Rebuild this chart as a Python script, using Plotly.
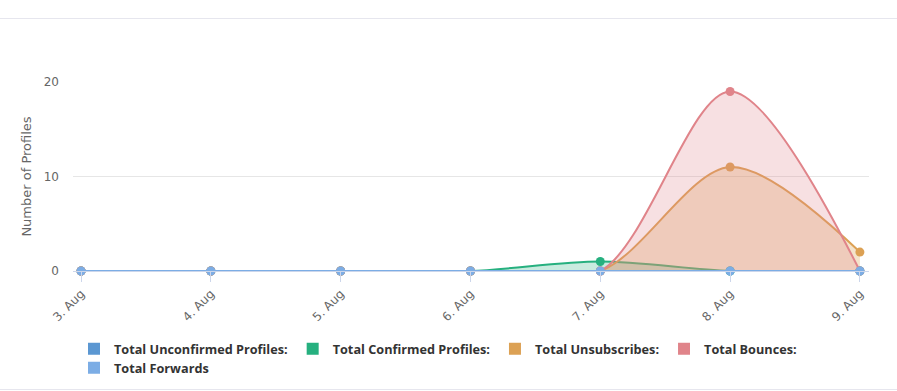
import plotly.graph_objects as go

categories = ["3. Aug", "4. Aug", "5. Aug", "6. Aug", "7. Aug", "8. Aug", "9. Aug"]
unconfirmed = [0, 0, 0, 0, 0, 0, 0]
confirmed = [0, 0, 0, 0, 1, 0, 0]
unsubscribes = [0, 0, 0, 0, 0, 11, 2]
bounces = [0, 0, 0, 0, 0, 19, 0]
forwards = [0, 0, 0, 0, 0, 0, 0]

series = [
    ("Total Unconfirmed Profiles:", unconfirmed, "#5b97d2", "rgba(91,151,210,0.25)", "legend"),
    ("Total Confirmed Profiles:", confirmed, "#26b07f", "rgba(38,176,127,0.25)", "legend"),
    ("Total Unsubscribes:", unsubscribes, "#dca154", "rgba(220,161,84,0.3)", "legend"),
    ("Total Bounces:", bounces, "#e0848a", "rgba(224,132,138,0.25)", "legend"),
    ("Total Forwards", forwards, "#7cade5", "rgba(124,173,229,0.25)", "legend2"),
]

AXFONT = "'DejaVu Sans', Verdana, sans-serif"
LEGFONT = "'Open Sans', 'Noto Sans', sans-serif"

fig = go.Figure()
for name, vals, col, fillc, lg in series:
    fig.add_trace(go.Scatter(
        x=categories, y=vals, mode="lines+markers", name=name,
        line=dict(color=col, width=2, shape="spline", smoothing=0.9),
        marker=dict(color=col, size=9, line=dict(width=0)),
        fill="tozeroy", fillcolor=fillc,
        showlegend=False, cliponaxis=False, hoverinfo="x+y+name",
    ))
# legend entries (square symbols)
for name, vals, col, fillc, lg in series:
    fig.add_trace(go.Scatter(
        x=[None], y=[None], mode="markers", name=name,
        marker=dict(color=col, size=12, symbol="square"),
        showlegend=True, legend=lg,
    ))

W, H = 897, 391
L, R, T, B = 73, 28, 82, 120
pw, ph = W - L - R, H - T - B

def px_to_paper_y(py):
    return (H - B - py) / ph

x0p = -L / pw
x1p = (W - L) / pw
for py in (18.5, 389.5):
    fig.add_shape(type="line", xref="paper", yref="paper",
                  x0=x0p, x1=x1p, y0=px_to_paper_y(py), y1=px_to_paper_y(py),
                  line=dict(color="#e6e6ee", width=1), layer="below")

leg_x = 1 / pw
legfont = dict(size=12.7, color="#333333", family=LEGFONT, weight="bold")
fig.update_layout(
    width=W, height=H,
    margin=dict(l=L, r=R, t=T, b=B, pad=0, autoexpand=False),
    paper_bgcolor="white", plot_bgcolor="white",
    font=dict(family=AXFONT, color="#666666", size=12),
    xaxis=dict(
        type="category", range=[-0.062, 6.07], automargin=False,
        showgrid=False, showline=True, linecolor="#ccd6eb", linewidth=1,
        ticks="outside", ticklen=10, tickcolor="#ccd6eb", tickwidth=1,
        tickangle=-45, tickfont=dict(size=12, color="#666666", family=AXFONT),
        zeroline=False,
    ),
    yaxis=dict(
        range=[0, 20], tickvals=[0, 10, 20], automargin=False,
        showgrid=True, gridcolor="#e6e6e6", gridwidth=1,
        zeroline=False, showline=False, ticks="",
        ticklabelstandoff=13, tickfont=dict(size=12, color="#666666", family=AXFONT),
        title=dict(text="Number of Profiles", font=dict(size=13, color="#666666", family=AXFONT), standoff=9),
    ),
    legend=dict(
        orientation="h", x=leg_x, xanchor="left",
        yref="container", y=1 - 334 / H, yanchor="top",
        font=legfont, itemwidth=30, bgcolor="rgba(0,0,0,0)",
    ),
    legend2=dict(
        orientation="h", x=leg_x, xanchor="left",
        yref="container", y=1 - 353 / H, yanchor="top",
        font=legfont, itemwidth=30, bgcolor="rgba(0,0,0,0)",
    ),
)

fig.write_html("out.html", config={"displayModeBar": False},
               post_script="document.body.style.margin='0';")
